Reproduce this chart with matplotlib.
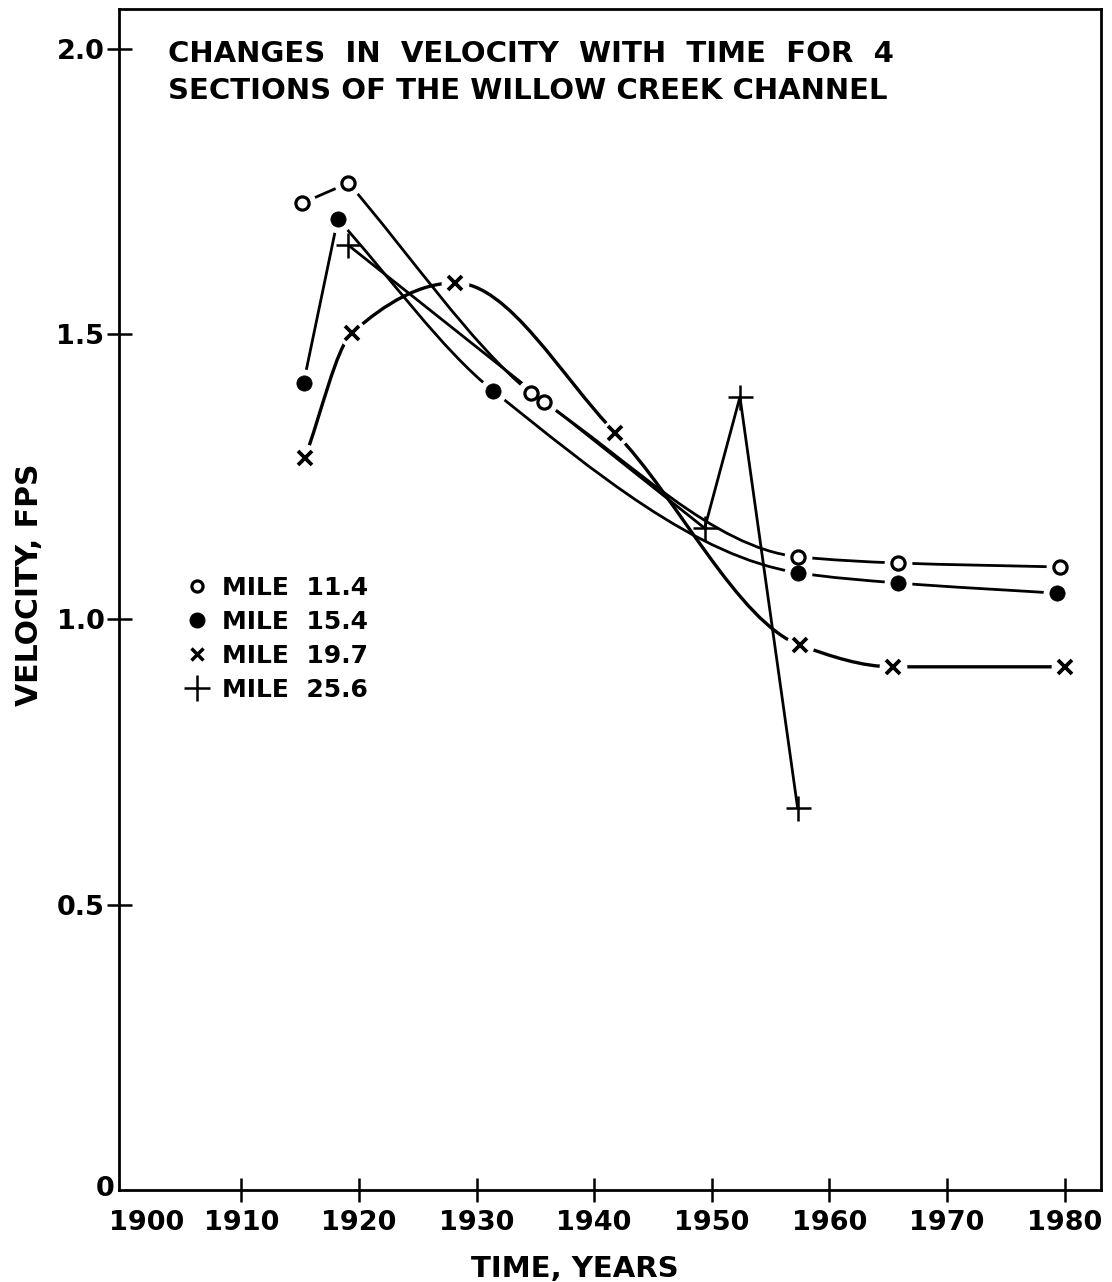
import numpy as np
import matplotlib
matplotlib.use("Agg")
import matplotlib.pyplot as plt
from matplotlib.path import Path
from matplotlib.patches import PathPatch
from matplotlib.lines import Line2D
import matplotlib.transforms as mtransforms

plt.rcParams['font.family'] = ['DejaVu Sans']
plt.rcParams['font.weight'] = 'bold'

# values
years_114 = [1915.2, 1919.1, 1934.6, 1935.7, 1957.3, 1965.8, 1979.6]
vel_114 = [1.73, 1.765, 1.397, 1.381, 1.110, 1.099, 1.092]

years_154 = [1915.3, 1918.2, 1931.4, 1957.3, 1965.8, 1979.4]
vel_154 = [1.415, 1.702, 1.401, 1.082, 1.064, 1.046]

years_197 = [1915.4, 1919.4, 1928.2, 1941.8, 1957.5, 1965.4, 1980.0]
vel_197 = [1.283, 1.502, 1.590, 1.327, 0.955, 0.917, 0.917]

years_256 = [1919.1, 1949.4, 1952.4, 1957.3]
vel_256 = [1.656, 1.160, 1.390, 0.670]

labels = ['MILE  11.4', 'MILE  15.4', 'MILE  19.7', 'MILE  25.6']
xtick_years = [1900, 1910, 1920, 1930, 1940, 1950, 1960, 1970, 1980]
ytick_vals = [0, 0.5, 1.0, 1.5, 2.0]
ytick_labels = ['0', '0.5', '1.0', '1.5', '2.0']


def smooth_path(x, y, corners=()):
    # hand-drawn look: cubic bezier through the points, monotone slopes,
    # with sharp corners at the given indices
    x = np.asarray(x, float)
    y = np.asarray(y, float)
    cuts = [0] + list(corners) + [len(x) - 1]
    verts = []
    codes = []
    for a, b in zip(cuts[:-1], cuts[1:]):
        xs = x[a:b + 1]
        ys = y[a:b + 1]
        h = np.diff(xs)
        d = np.diff(ys) / h
        m = np.zeros(len(xs))
        m[0] = d[0]
        m[-1] = d[-1]
        for i in range(1, len(xs) - 1):
            if d[i - 1] * d[i] <= 0:
                m[i] = 0.0
            else:
                w1 = 2 * h[i] + h[i - 1]
                w2 = h[i] + 2 * h[i - 1]
                m[i] = (w1 + w2) / (w1 / d[i - 1] + w2 / d[i])
        verts.append((xs[0], ys[0]))
        codes.append(Path.MOVETO)
        for i in range(len(xs) - 1):
            verts += [(xs[i] + h[i] / 3, ys[i] + m[i] * h[i] / 3),
                      (xs[i + 1] - h[i] / 3, ys[i + 1] - m[i + 1] * h[i] / 3),
                      (xs[i + 1], ys[i + 1])]
            codes += [Path.CURVE4] * 3
    return Path(verts, codes)


fig = plt.figure(figsize=(11.12, 12.82), dpi=100)
ax = fig.add_axes([119 / 1112, (1282 - 1190) / 1282, 982 / 1112, 1181 / 1282])

# curves
for xs, ys, lw, cn in [(years_114, vel_114, 2.0, (1,)),
                       (years_154, vel_154, 2.0, (1,)),
                       (years_197, vel_197, 2.4, ())]:
    ax.add_patch(PathPatch(smooth_path(xs, ys, cn), fill=False, edgecolor='black',
                           lw=lw, zorder=2, capstyle='round'))
ax.plot(years_256, vel_256, color='black', lw=2.0, zorder=2)

# white halos so lines stop short of the symbols
for xs, ys, ms in [(years_114, vel_114, 19), (years_154, vel_154, 19),
                   (years_197, vel_197, 19)]:
    ax.plot(xs, ys, ls='none', marker='o', ms=ms, mfc='white', mec='white', zorder=3)

h1, = ax.plot(years_114, vel_114, ls='none', marker='o', ms=9.5, mfc='white',
              mec='black', mew=2.3, zorder=4)
h2, = ax.plot(years_154, vel_154, ls='none', marker='o', ms=11, mfc='black',
              mec='black', mew=0.5, zorder=4)
h3, = ax.plot(years_197, vel_197, ls='none', marker='x', ms=9.5, mec='black',
              mew=2.7, zorder=4)
h4, = ax.plot(years_256, vel_256, ls='none', marker='+', ms=18, mec='black',
              mew=1.8, zorder=4)

ax.set_xlim(1899.6, 1983.1)
ax.set_ylim(0, 2.07)

ax.set_xticks(xtick_years)
ax.set_xticklabels([str(v) for v in xtick_years])
ax.set_yticks(ytick_vals)
ax.set_yticklabels(ytick_labels)
ax.tick_params(axis='x', direction='inout', length=17, width=1.8, pad=6, labelsize=19.5)
ax.tick_params(axis='y', direction='inout', length=18, width=1.8, pad=1.5, labelsize=19.5)
for lab in ax.get_xticklabels() + ax.get_yticklabels():
    lab.set_fontweight('bold')

# no tick marks at the origin, labels nudged like the original
ax.xaxis.get_major_ticks()[0].tick1line.set_visible(False)
ax.yaxis.get_major_ticks()[0].tick1line.set_visible(False)
xl0 = ax.get_xticklabels()[0]
xl0.set_transform(xl0.get_transform() + mtransforms.ScaledTranslation(0.23, 0, fig.dpi_scale_trans))
yl0 = ax.get_yticklabels()[0]
yl0.set_transform(yl0.get_transform() + mtransforms.ScaledTranslation(0.10, 0.04, fig.dpi_scale_trans))

for sp in ax.spines.values():
    sp.set_linewidth(2.0)

fig.text(168 / 1112, 1 - 62 / 1282, 'CHANGES  IN  VELOCITY  WITH  TIME  FOR  4',
         ha='left', va='baseline', fontsize=21, fontweight='bold')
fig.text(168 / 1112, 1 - 99 / 1282, 'SECTIONS OF THE WILLOW CREEK CHANNEL',
         ha='left', va='baseline', fontsize=21, fontweight='bold')

fig.text(575 / 1112, 1 - 1277 / 1282, 'TIME, YEARS', ha='center', va='baseline',
         fontsize=21, fontweight='bold')
fig.text(30 / 1112, 1 - 585 / 1282, 'VELOCITY, FPS', ha='center', va='center',
         rotation=90, fontsize=21.5, fontweight='bold')

# legend handles: symbols only
lh = [Line2D([], [], ls='none', marker='o', ms=8, mfc='white', mec='black', mew=2.3),
      Line2D([], [], ls='none', marker='o', ms=10.5, mfc='black', mec='black'),
      Line2D([], [], ls='none', marker='x', ms=8, mec='black', mew=2.5),
      Line2D([], [], ls='none', marker='+', ms=19, mec='black', mew=1.8)]
ax.legend(lh, labels, loc='upper left', bbox_to_anchor=(0.067, 0.52),
          frameon=False, handlelength=1.0, handletextpad=0.5, labelspacing=0.4,
          borderpad=0, borderaxespad=0, numpoints=1,
          prop={'size': 18, 'weight': 'bold'})

plt.savefig('out.png', dpi=100)
